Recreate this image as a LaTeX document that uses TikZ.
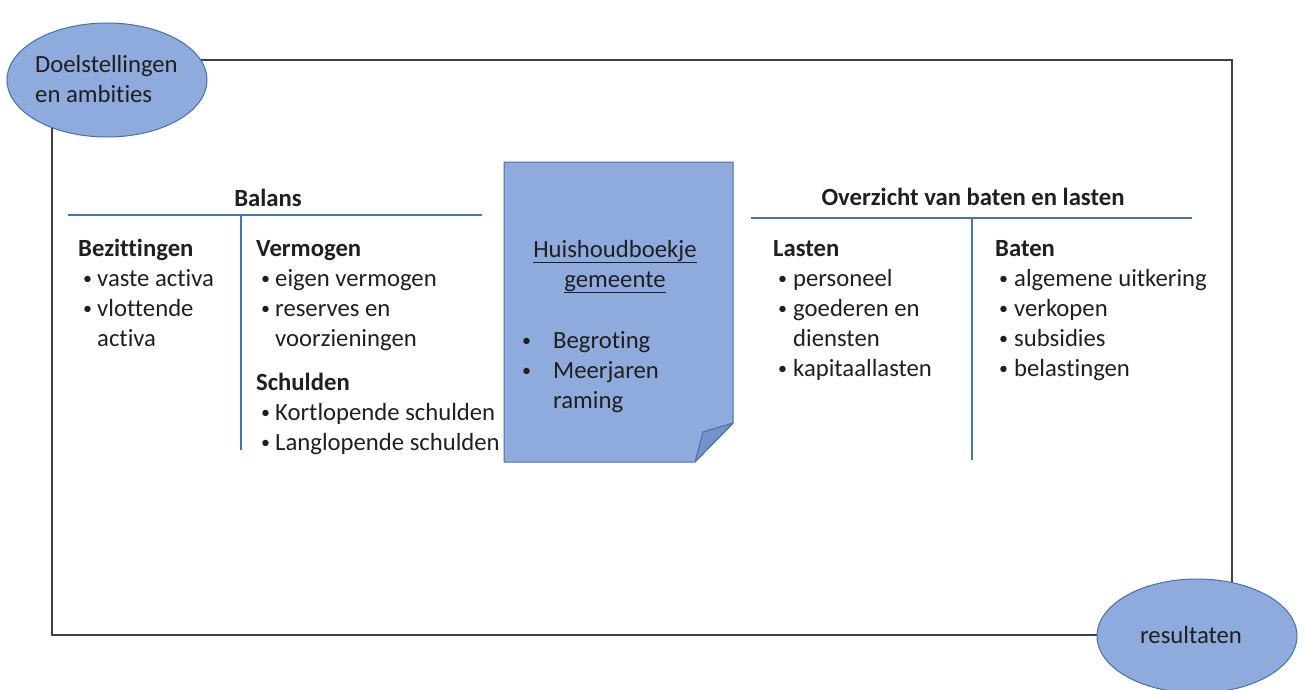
\documentclass[tikz,border=0pt]{standalone}
\usepackage{fontspec}
\setmainfont{Carlito}[Ligatures={NoCommon}]
\usetikzlibrary{shapes.geometric}
\definecolor{fillblue}{HTML}{8FAADC}
\definecolor{edgeblue}{HTML}{4A6FAF}
\definecolor{foldblue}{HTML}{7393CD}
\definecolor{ruleblue}{HTML}{4472C4}
\definecolor{frame}{HTML}{404040}
\definecolor{ink}{HTML}{1F1F1F}
\newcommand{\fsz}{\fontsize{24.7}{30}\selectfont}
\tikzset{
  txt/.style={inner sep=0pt, anchor=base west, text=ink, font=\fsz},
  btxt/.style={txt, font=\fsz\bfseries},
  bul/.style={inner sep=0pt, anchor=base west, text=ink, font=\fontsize{18}{20}\selectfont},
  rule/.style={draw=ruleblue, line width=1.6pt},
  blob/.style={ellipse, draw=edgeblue, fill=fillblue, line width=1pt, minimum width=200pt, minimum height=114pt, inner sep=0pt},
}
\begin{document}
\begin{tikzpicture}[x=1pt,y=-1pt]
\useasboundingbox (0,0) rectangle (1303,689);
% frame
\coordinate (tl) at (52,60);
\coordinate (tr) at (1232,60);
\coordinate (br) at (1232,635);
\coordinate (bl) at (52,635);
\draw[frame, line width=1.6pt] (tl) -- (tr) -- (br) -- (bl) -- cycle;
% ellipses
\node[blob] (goal) at (107,80) {};
\node[txt] (goalt1) at (35,72) {Doelstellingen};
\node[txt] (goalt2) at (35,102) {en ambities};
\node[blob] (res) at (1197,636) {};
\node[txt, anchor=base] (rest) at (1191,643) {resultaten};
% Balans
\node[btxt, anchor=base] (balans) at (268,206) {Balans};
\coordinate (b1) at (68,215); \coordinate (b2) at (482,215);
\coordinate (b3) at (241,215); \coordinate (b4) at (241,450);
\draw[rule] (b1) -- (b2);
\draw[rule] (b3) -- (b4);
\node[btxt] (bez) at (78,256) {Bezittingen};
\node[bul] (bz1) at (83,284) {•}; \node[txt] (bz1t) at (97,286) {vaste activa};
\node[bul] (bz2) at (83,314) {•}; \node[txt] (bz2t) at (97,316) {vlottende};
\node[txt] (bz3t) at (97,346) {activa};
\node[btxt] (ver) at (256,256) {Vermogen};
\node[bul] (v1) at (261,284) {•}; \node[txt] (v1t) at (275,286) {eigen vermogen};
\node[bul] (v2) at (261,314) {•}; \node[txt] (v2t) at (275,316) {reserves en};
\node[txt] (v3t) at (275,346) {voorzieningen};
\node[btxt] (sch) at (256,390) {Schulden};
\node[bul] (s1) at (261,418) {•}; \node[txt] (s1t) at (275,420) {Kortlopende schulden};
\node[bul] (s2) at (261,448) {•}; \node[txt] (s2t) at (275,450) {Langlopende schulden};
% document
\coordinate (d1) at (504,162); \coordinate (d2) at (733,162);
\coordinate (d3) at (733,423); \coordinate (d4) at (695,462);
\coordinate (d5) at (504,462); \coordinate (d6) at (703,432);
\draw[fill=fillblue, draw=edgeblue, line width=1pt, line join=round] (d1) -- (d2) -- (d3) -- (d4) -- (d5) -- cycle;
\draw[fill=foldblue, draw=edgeblue, line width=1pt, line join=round] (d3) -- (d6) -- (d4) -- cycle;
\node[txt, anchor=base] (h1) at (615,257) {\underline{Huishoudboekje}};
\node[txt, anchor=base] (h2) at (615,287) {\underline{gemeente}};
\node[bul] (hb1) at (522,346) {•}; \node[txt] (hb1t) at (553,348) {Begroting};
\node[bul] (hb2) at (522,376) {•}; \node[txt] (hb2t) at (553,378) {Meerjaren};
\node[txt] (hb3t) at (553,408) {raming};
% Overzicht
\node[btxt, anchor=base] (ovz) at (973,205) {Overzicht van baten en lasten};
\coordinate (o1) at (751,218); \coordinate (o2) at (1192,218);
\coordinate (o3) at (972,218); \coordinate (o4) at (972,460);
\draw[rule] (o1) -- (o2);
\draw[rule] (o3) -- (o4);
\node[btxt] (las) at (773,256) {Lasten};
\node[bul] (l1) at (778,284) {•}; \node[txt] (l1t) at (793,286) {personeel};
\node[bul] (l2) at (778,314) {•}; \node[txt] (l2t) at (793,316) {goederen en};
\node[txt] (l3t) at (793,346) {diensten};
\node[bul] (l4) at (778,374) {•}; \node[txt] (l4t) at (793,376) {kapitaallasten};
\node[btxt] (bat) at (995,256) {Baten};
\node[bul] (t1) at (999,284) {•}; \node[txt] (t1t) at (1014,286) {algemene uitkering};
\node[bul] (t2) at (999,314) {•}; \node[txt] (t2t) at (1014,316) {verkopen};
\node[bul] (t3) at (999,344) {•}; \node[txt] (t3t) at (1014,346) {subsidies};
\node[bul] (t4) at (999,374) {•}; \node[txt] (t4t) at (1014,376) {belastingen};
\end{tikzpicture}
\end{document}
